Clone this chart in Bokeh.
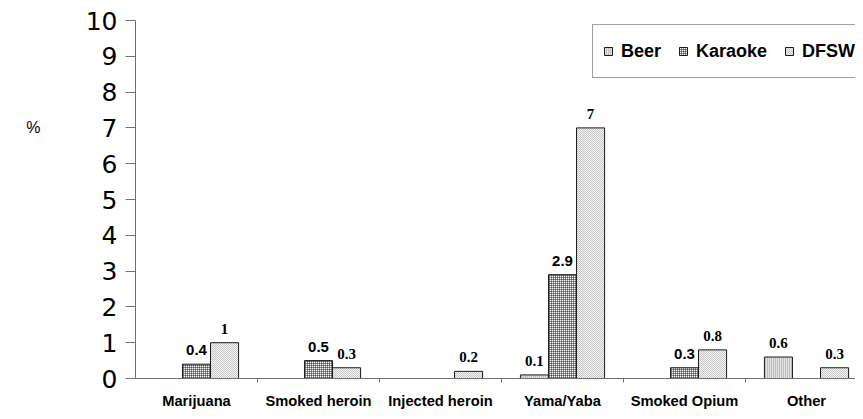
from bokeh.plotting import figure
from bokeh.models import (ColumnDataSource, FixedTicker, LabelSet, Legend,
                          LegendItem, Range1d, LinearAxis)
from bokeh.embed import file_html
from bokeh.resources import INLINE
from bokeh.core.properties import value

categories = ["Marijuana", "Smoked heroin", "Injected heroin", "Yama/Yaba", "Smoked Opium", "Other"]
beer = [0, 0, 0, 0.1, 0, 0.6]
karaoke = [0.4, 0.5, 0, 2.9, 0.3, 0]
dfsw = [1, 0.3, 0.2, 7, 0.8, 0.3]
series_names = ["Beer", "Karaoke", "DFSW"]
y_ticks = [0, 1, 2, 3, 4, 5, 6, 7, 8, 9, 10]
y_unit_label = "%"
y_unit_pos = 7.0

W, H = 855, 411
LEFT, TOP = 135, 20
FRAME_BOTTOM = 386
BOTTOM = H - FRAME_BOTTOM
cat_px = 122.0
frame_w = W - LEFT

p = figure(width=W, height=H, output_backend="svg", toolbar_location=None,
           x_range=Range1d(0, frame_w / cat_px), y_range=Range1d(0, 10),
           min_border_left=LEFT, min_border_right=0, min_border_top=TOP,
           min_border_bottom=BOTTOM)
p.outline_line_color = None
p.xgrid.visible = False
p.ygrid.visible = False
p.background_fill_color = "white"
p.border_fill_color = "white"

bar_w = 0.23
styles = [
    dict(fill_color="#e2e2e2", hatch_pattern="vertical_line", hatch_color="#9a9a9a",
         hatch_scale=2, hatch_weight=1),
    dict(fill_color="#ffffff", hatch_pattern="cross", hatch_color="#1a1a1a",
         hatch_scale=2, hatch_weight=1),
    dict(fill_color="#f4f4f4", hatch_pattern="diagonal_cross", hatch_color="#c4c4c4",
         hatch_scale=2, hatch_weight=1),
]
label_fonts = ["Liberation Serif", "Liberation Sans", "Liberation Serif"]

renderers = []
for k, (vals, st, fnt) in enumerate(zip([beer, karaoke, dfsw], styles, label_fonts)):
    xs, tops, txt = [], [], []
    for i, v in enumerate(vals):
        if v > 0:
            xs.append(i + 0.5 + (k - 1) * bar_w)
            tops.append(v)
            txt.append(f"{v:g}")
    src = ColumnDataSource(dict(x=xs, top=tops, text=txt))
    r = p.vbar(x="x", top="top", width=bar_w, source=src, line_color="#1a1a1a",
               line_width=1, **st)
    renderers.append(r)
    ls = LabelSet(x="x", y="top", text="text", source=src, text_align="center",
                  text_baseline="alphabetic", y_offset=9,
                  text_font=value(fnt), text_font_style="bold",
                  text_font_size="15px", text_color="black")
    p.add_layout(ls)

# axes
yax = p.yaxis[0]
yax.ticker = FixedTicker(ticks=y_ticks, minor_ticks=[])
yax.axis_line_color = "#707070"
yax.major_tick_line_color = "#707070"
yax.major_tick_out = 10
yax.major_tick_in = 0
yax.minor_tick_line_color = None
yax.major_label_standoff = 8
yax.major_label_text_font = "DejaVu Sans"
yax.major_label_text_font_size = "25px"
yax.major_label_text_color = "black"

# unit label "%" drawn as an extra, line-less axis further left
unit_ax = LinearAxis(ticker=FixedTicker(ticks=[y_unit_pos], minor_ticks=[]),
                     major_label_overrides={y_unit_pos: y_unit_label})
unit_ax.axis_line_color = None
unit_ax.major_tick_line_color = None
unit_ax.minor_tick_line_color = None
unit_ax.major_tick_out = 0
unit_ax.major_tick_in = 0
unit_ax.major_label_standoff = 42
unit_ax.major_label_text_font = "Liberation Sans"
unit_ax.major_label_text_font_size = "16px"
unit_ax.major_label_text_color = "black"
p.add_layout(unit_ax, "left")

xax = p.xaxis[0]
centers = [i + 0.5 for i in range(len(categories))]
xax.ticker = FixedTicker(ticks=centers, minor_ticks=[1, 2, 3, 4, 5])
xax.major_label_overrides = {c: name for c, name in zip(centers, categories)}
xax.axis_line_color = "#707070"
xax.major_tick_line_color = None
xax.minor_tick_line_color = "#707070"
xax.minor_tick_out = 4
xax.minor_tick_in = 0
xax.major_tick_out = 4
xax.major_label_standoff = 10
xax.major_label_text_font = "Liberation Sans"
xax.major_label_text_font_style = "bold"
xax.major_label_text_font_size = "14.7px"
xax.major_label_text_color = "black"

legend = Legend(items=[LegendItem(label=n, renderers=[r]) for n, r in zip(series_names, renderers)],
                orientation="horizontal", location=(457, 300),
                glyph_width=10, glyph_height=10, label_standoff=8, spacing=17,
                padding=10, margin=0, label_height=32,
                label_text_font="Liberation Sans", label_text_font_style="bold",
                label_text_font_size="18px", label_text_color="black",
                border_line_color="#404040", border_line_width=1,
                background_fill_color="white", background_fill_alpha=1)
p.add_layout(legend)

open("out.html", "w").write(file_html(p, INLINE))
